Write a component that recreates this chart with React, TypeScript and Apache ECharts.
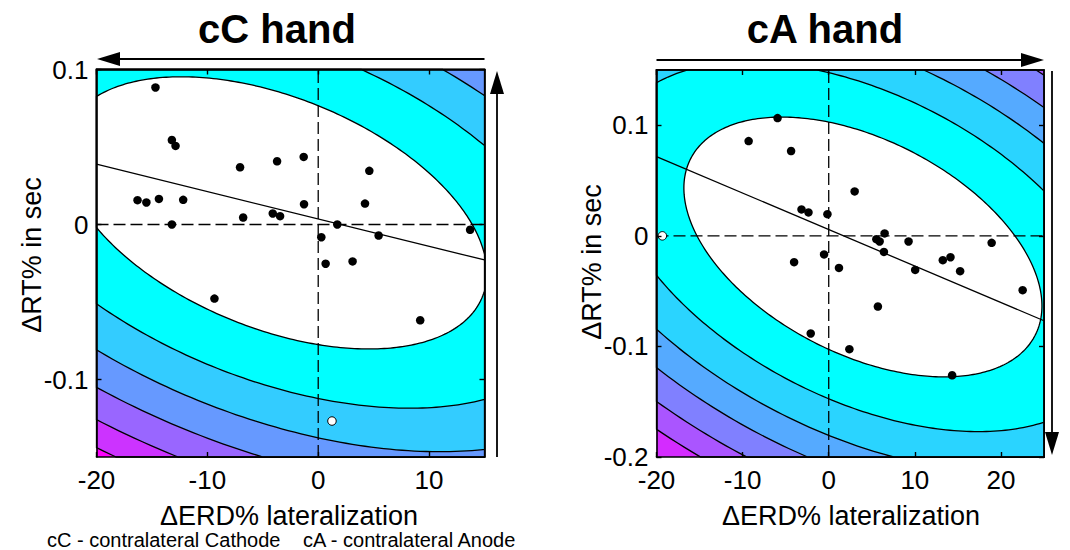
import React, { useEffect, useRef } from "react";
import * as echarts from "echarts";

const FONT = '"Liberation Sans", Arial, Helvetica, sans-serif';

// ---------- data: left panel (cC hand) ----------
const LEFT_X = [-14.68, -13.2, -12.87, -7.05, -3.71, -1.31, 4.61, -16.3, -15.5, -14.37, -12.18, -13.2, -6.77, -4.1, -3.44, -1.28, 4.22, 1.72, 0.28, 5.45, 0.67, 3.1, 13.7, -9.36, 9.2];
const LEFT_Y = [0.0884, 0.0545, 0.0507, 0.0369, 0.0408, 0.0436, 0.0346, 0.0157, 0.0142, 0.0165, 0.0159, 0.0, 0.0045, 0.0071, 0.0054, 0.0131, 0.0135, 0.0, -0.0082, -0.0071, -0.0253, -0.0238, -0.0034, -0.0478, -0.0618];
const LEFT_OUTLIER = [1.24, -0.1268];
const LEFT_X_TICKS = [-20, -10, 0, 10];
const LEFT_Y_TICKS = [-0.1, 0, 0.1];
// contour model (white ellipse = level 1): centre, spreads, correlation
const LEFT_ELLIPSE = { mx: -3.89, my: 0.0075, sx: 19.1, sy: 0.0878, r: -0.443 };
const LEFT_LEVELS = [1, 2.06, 3.08, 4.12, 5.17, 6.19];
const LEFT_COLORS = ["#00FFFF", "#33CCFF", "#6699FF", "#9966FF", "#CC33FF", "#FF00FF"];

// ---------- data: right panel (cA hand) ----------
const RIGHT_X = [-5.94, -9.3, -4.37, 3.01, -3.16, -2.35, -0.15, 6.49, 5.53, 5.91, 9.27, 18.92, 6.41, -0.54, -4.02, 1.19, 10.04, 13.25, 14.14, 15.26, 22.52, 5.71, -2.09, 2.4, 14.33];
const RIGHT_Y = [0.1065, 0.0857, 0.0767, 0.0402, 0.0239, 0.0212, 0.0196, 0.0022, -0.003, -0.0051, -0.0051, -0.0063, -0.0145, -0.0168, -0.0238, -0.029, -0.0308, -0.022, -0.0193, -0.0319, -0.0491, -0.0639, -0.0883, -0.1025, -0.1261];
const RIGHT_OUTLIER = [-19.32, 0];
const RIGHT_X_TICKS = [-20, -10, 0, 10, 20];
const RIGHT_Y_TICKS = [-0.2, -0.1, 0, 0.1];
const RIGHT_ELLIPSE = { mx: 3.97, my: -0.01006, sx: 20.79, sy: 0.1175, r: -0.4537 };
const RIGHT_LEVELS = [1, 2.02, 3.01, 3.98, 5.02, 6.0];
const RIGHT_COLORS = ["#00FFFF", "#2AD4FF", "#55AAFF", "#8080FF", "#AA55FF", "#D42BFF"];

function regression(xs: number[], ys: number[]) {
  const n = xs.length;
  const mx = xs.reduce((a, b) => a + b, 0) / n;
  const my = ys.reduce((a, b) => a + b, 0) / n;
  let sxy = 0, sxx = 0;
  for (let i = 0; i < n; i++) {
    sxy += (xs[i] - mx) * (ys[i] - my);
    sxx += (xs[i] - mx) * (xs[i] - mx);
  }
  const slope = sxy / sxx;
  return { slope, intercept: my - slope * mx };
}

function ellipsePoints(e: any, level: number, n = 360) {
  const m = Math.sqrt(level);
  const q = Math.sqrt(1 - e.r * e.r);
  const pts: number[][] = [];
  for (let i = 0; i < n; i++) {
    const t = (i / n) * Math.PI * 2;
    const c = Math.cos(t), s = Math.sin(t);
    pts.push([e.mx + m * e.sx * c, e.my + m * e.sy * (e.r * c + q * s)]);
  }
  return pts;
}

function clipPoly(poly: number[][], xmin: number, xmax: number, ymin: number, ymax: number) {
  const edges: [(p: number[]) => boolean, (a: number[], b: number[]) => number[]][] = [
    [(p) => p[0] >= xmin, (a, b) => { const t = (xmin - a[0]) / (b[0] - a[0]); return [xmin, a[1] + t * (b[1] - a[1])]; }],
    [(p) => p[0] <= xmax, (a, b) => { const t = (xmax - a[0]) / (b[0] - a[0]); return [xmax, a[1] + t * (b[1] - a[1])]; }],
    [(p) => p[1] >= ymin, (a, b) => { const t = (ymin - a[1]) / (b[1] - a[1]); return [a[0] + t * (b[0] - a[0]), ymin]; }],
    [(p) => p[1] <= ymax, (a, b) => { const t = (ymax - a[1]) / (b[1] - a[1]); return [a[0] + t * (b[0] - a[0]), ymax]; }],
  ];
  let out = poly;
  for (const [inside, inter] of edges) {
    const input = out;
    out = [];
    if (!input.length) break;
    for (let i = 0; i < input.length; i++) {
      const cur = input[i];
      const prev = input[(i + input.length - 1) % input.length];
      const ci = inside(cur), pi = inside(prev);
      if (ci) {
        if (!pi) out.push(inter(prev, cur));
        out.push(cur);
      } else if (pi) {
        out.push(inter(prev, cur));
      }
    }
  }
  return out;
}

function buildPanel(idx: number, cfg: any) {
  const axisCommon = {
    gridIndex: idx,
    type: "value",
    z: 10,
    splitLine: { show: false },
    axisLine: { show: true, onZero: false, lineStyle: { color: "#000", width: 1.6 } },
  };
  const labelStyle = { color: "#000", fontSize: 26, fontFamily: FONT };
  const tick = (vals: number[]) => ({ show: true, inside: true, length: 5, customValues: vals, lineStyle: { color: "#000", width: 1.4 } });
  const xAxes = [
    { ...axisCommon, min: cfg.xmin, max: cfg.xmax, position: "bottom", axisTick: tick(cfg.xTicks), axisLabel: { ...labelStyle, margin: 10, customValues: cfg.xTicks } },
    { ...axisCommon, min: cfg.xmin, max: cfg.xmax, position: "top", axisTick: tick(cfg.xTicks), axisLabel: { show: false } },
  ];
  const yAxes = [
    { ...axisCommon, min: cfg.ymin, max: cfg.ymax, position: "left", axisTick: tick(cfg.yTicks), axisLabel: { ...labelStyle, margin: 8, customValues: cfg.yTicks } },
    { ...axisCommon, min: cfg.ymin, max: cfg.ymax, position: "right", axisTick: tick(cfg.yTicks), axisLabel: { show: false } },
  ];
  const xA = idx * 2, yA = idx * 2;
  const reg = regression(cfg.xs, cfg.ys);
  const series: any[] = [
    {
      type: "custom",
      xAxisIndex: xA, yAxisIndex: yA, z: 1, silent: true,
      data: [[cfg.ellipse.mx, cfg.ellipse.my]],
      renderItem: (params: any, api: any) => {
        const children: any[] = [];
        const tl = api.coord([cfg.xmin, cfg.ymax]);
        const br = api.coord([cfg.xmax, cfg.ymin]);
        children.push({
          type: "rect",
          shape: { x: tl[0], y: tl[1], width: br[0] - tl[0], height: br[1] - tl[1] },
          style: { fill: cfg.colors[cfg.colors.length - 1] },
        });
        for (let i = cfg.levels.length - 1; i >= 0; i--) {
          const poly = clipPoly(ellipsePoints(cfg.ellipse, cfg.levels[i]), cfg.xmin, cfg.xmax, cfg.ymin, cfg.ymax);
          if (poly.length < 3) continue;
          children.push({
            type: "polygon",
            shape: { points: poly.map((p) => api.coord(p)) },
            style: { fill: i === 0 ? "#FFFFFF" : cfg.colors[i - 1], stroke: "#000", lineWidth: 1.3 },
          });
        }
        return { type: "group", children };
      },
    },
    {
      type: "line", xAxisIndex: xA, yAxisIndex: yA, z: 3, symbol: "none", silent: true,
      data: [[0, cfg.ymin], [0, cfg.ymax]],
      lineStyle: { color: "#000", width: 1.3, type: [12, 5], opacity: 1 },
    },
    {
      type: "line", xAxisIndex: xA, yAxisIndex: yA, z: 3, symbol: "none", silent: true,
      data: [[cfg.xmin, 0], [cfg.xmax, 0]],
      lineStyle: { color: "#000", width: 1.3, type: [12, 5], opacity: 1 },
    },
    {
      type: "line", xAxisIndex: xA, yAxisIndex: yA, z: 4, symbol: "none", silent: true,
      data: [cfg.xmin, cfg.xmax].map((x) => [x, reg.intercept + reg.slope * x]),
      lineStyle: { color: "#000", width: 1.3, opacity: 1 },
    },
    {
      type: "scatter", xAxisIndex: xA, yAxisIndex: yA, z: 5, silent: true,
      symbolSize: 8.5,
      data: cfg.xs.map((x: number, i: number) => [x, cfg.ys[i]]),
      itemStyle: { color: "#000", opacity: 1 },
    },
    {
      type: "scatter", xAxisIndex: xA, yAxisIndex: yA, z: 5, silent: true,
      symbolSize: 8.5,
      data: [cfg.outlier],
      itemStyle: { color: "#FFF", borderColor: "#000", borderWidth: 1, opacity: 1 },
    },
  ];
  return { xAxes, yAxes, series };
}

function txt(text: string, x: number, y: number, size: number, extra: any = {}) {
  return {
    type: "text", x, y, rotation: extra.rotation || 0, z: 20,
    style: {
      text, fill: "#000", fontSize: size, fontFamily: FONT, fontWeight: extra.bold ? "bold" : "normal",
      textAlign: extra.align || "center", align: extra.align || "center",
      textVerticalAlign: "middle", verticalAlign: "middle",
    },
  };
}

function arrow(x1: number, y1: number, x2: number, y2: number) {
  const len = Math.hypot(x2 - x1, y2 - y1);
  const ux = (x2 - x1) / len, uy = (y2 - y1) / len;
  const hl = 23, hw = 7;
  const bx = x2 - ux * hl, by = y2 - uy * hl;
  return [
    { type: "line", z: 20, shape: { x1, y1, x2: bx, y2: by }, style: { stroke: "#000", lineWidth: 1.8 } },
    {
      type: "polygon", z: 20,
      shape: { points: [[x2, y2], [bx - uy * hw, by + ux * hw], [bx + uy * hw, by - ux * hw]] },
      style: { fill: "#000" },
    },
  ];
}

export default function App() {
  const ref = useRef<HTMLDivElement>(null);
  useEffect(() => {
    if (!ref.current) return;
    const chart = echarts.init(ref.current, undefined, { renderer: "svg" });
    const left = buildPanel(0, {
      xmin: -20, xmax: 15, ymin: -0.15, ymax: 0.1,
      xTicks: LEFT_X_TICKS, yTicks: LEFT_Y_TICKS,
      xs: LEFT_X, ys: LEFT_Y, outlier: LEFT_OUTLIER,
      ellipse: LEFT_ELLIPSE, levels: LEFT_LEVELS, colors: LEFT_COLORS,
    });
    const right = buildPanel(1, {
      xmin: -20, xmax: 25, ymin: -0.2, ymax: 0.15,
      xTicks: RIGHT_X_TICKS, yTicks: RIGHT_Y_TICKS,
      xs: RIGHT_X, ys: RIGHT_Y, outlier: RIGHT_OUTLIER,
      ellipse: RIGHT_ELLIPSE, levels: RIGHT_LEVELS, colors: RIGHT_COLORS,
    });
    chart.setOption({
      animation: false,
      backgroundColor: "#FFFFFF",
      grid: [
        { left: 96.5, top: 69.5, width: 388, height: 387.5 },
        { left: 656.5, top: 70, width: 387.5, height: 387 },
      ],
      xAxis: [...left.xAxes, ...right.xAxes],
      yAxis: [...left.yAxes, ...right.yAxes],
      series: [...left.series, ...right.series],
      graphic: [
        txt("cC hand", 277, 29, 40, { bold: true }),
        txt("cA hand", 825, 29, 40, { bold: true }),
        txt("\u0394ERD% lateralization", 289, 516, 27),
        txt("\u0394ERD% lateralization", 851, 516, 27),
        txt("\u0394RT% in sec", 32, 255, 27, { rotation: Math.PI / 2 }),
        txt("\u0394RT% in sec", 592, 262, 27, { rotation: Math.PI / 2 }),
        txt("cC - contralateral Cathode", 47, 540, 20, { align: "left" }),
        txt("cA - contralateral Anode", 303, 540, 20, { align: "left" }),
        ...arrow(484.5, 59, 97, 59),
        ...arrow(497, 457, 497, 71),
        ...arrow(656.5, 60, 1044, 60),
        ...arrow(1052, 71, 1052, 455),
      ],
    });
    return () => chart.dispose();
  }, []);
  return <div ref={ref} style={{ position: "fixed", left: 0, top: 0, width: 1070, height: 550 }} />;
}
